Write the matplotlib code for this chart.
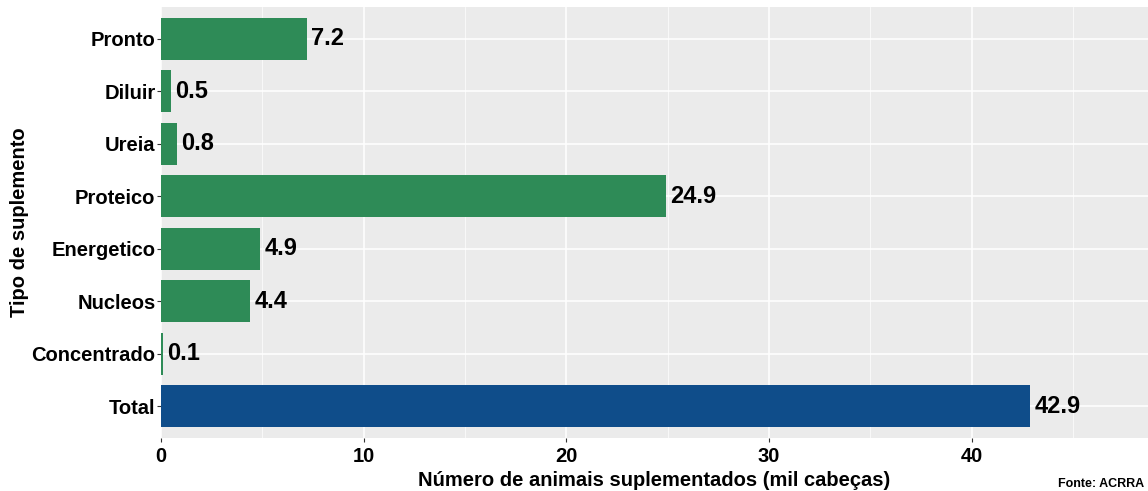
import matplotlib.pyplot as plt

plt.rcParams['font.family'] = ['Liberation Sans', 'DejaVu Sans']

categorias = ['Total', 'Concentrado', 'Nucleos', 'Energetico', 'Proteico', 'Ureia', 'Diluir', 'Pronto']
valores = [42.9, 0.1, 4.4, 4.9, 24.9, 0.8, 0.5, 7.2]
cores = ['#0f4d8a'] + ['#2e8b57'] * 7
xticks = [0, 10, 20, 30, 40]

fig = plt.figure(figsize=(11.48, 4.91), dpi=100)
ax = fig.add_axes([161 / 1148, 1 - 438 / 491, 1 - 161 / 1148, (438 - 7) / 491])
ax.set_facecolor('#ebebeb')

y = range(len(categorias))
ax.barh(y, valores, height=0.8, color=cores, zorder=3)
for yi, v in zip(y, valores):
    ax.text(v + 0.2, yi, f'{v}', va='center', ha='left', fontsize=17, fontweight='bold', zorder=4)

ax.set_xlim(0, 48.7)
ax.set_ylim(-0.6, 7.6)
ax.set_xticks(xticks)
ax.set_xticks([5, 15, 25, 35, 45], minor=True)
ax.set_yticks(list(y))
ax.set_yticklabels(categorias)
ax.grid(which='major', color='white', linewidth=1.1, zorder=0)
ax.grid(which='minor', axis='x', color='white', linewidth=0.5, zorder=0)
for s in ax.spines.values():
    s.set_visible(False)
ax.tick_params(axis='both', which='major', labelsize=14.5, length=3, color='#333333')
ax.tick_params(axis='y', which='major', pad=1)
ax.tick_params(axis='x', which='minor', length=0)
for lab in ax.get_xticklabels() + ax.get_yticklabels():
    lab.set_fontweight('bold')

ax.set_xlabel('Número de animais suplementados (mil cabeças)', fontsize=14.5, fontweight='bold')
ax.xaxis.set_label_coords(0.5, -42 / 431, transform=ax.transAxes)
ax.xaxis.label.set_va('center')
ax.set_ylabel('Tipo de suplemento', fontsize=14.5, fontweight='bold')
ax.yaxis.set_label_coords(-132 / 987, 0.5, transform=ax.transAxes)

fig.text(1058 / 1148, 1 / 491, 'Fonte: ACRRA', fontsize=9, fontweight='bold', ha='left', va='bottom')

fig.savefig('out.png', dpi=100)
